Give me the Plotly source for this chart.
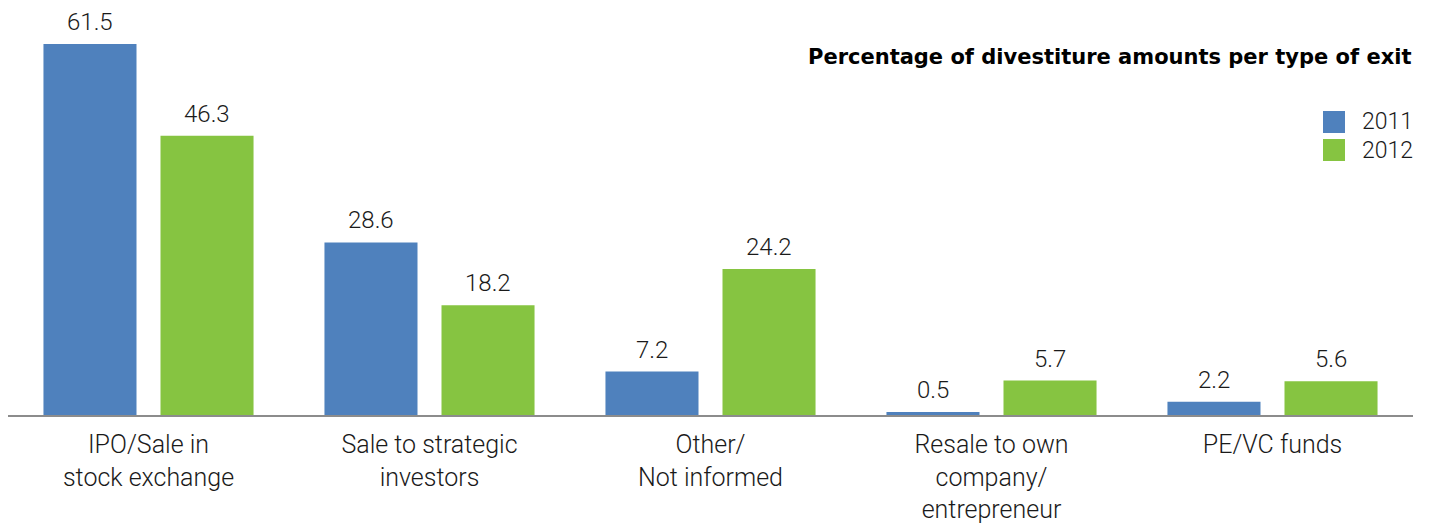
import plotly.graph_objects as go

categories = [
    "IPO/Sale in<br>stock exchange",
    "Sale to strategic<br>investors",
    "Other/<br>Not informed",
    "Resale to own<br>company/<br>entrepreneur",
    "PE/VC funds",
]
series_names = ["2011", "2012"]
values_2011 = [61.5, 28.6, 7.2, 0.5, 2.2]
values_2012 = [46.3, 18.2, 24.2, 5.7, 5.6]

BLUE = "#4f81bd"
GREEN = "#86c441"
TEXT = "#1a1a1a"
FONT = "Roboto, 'Liberation Sans', Arial, sans-serif"

# plot area geometry (px) used for the value-label offsets
PLOT_W = 1429 - 8 - 16
N_CAT = len(categories)
BARGAP = 0.167
SLOT_PX = PLOT_W / N_CAT * (1 - BARGAP) / 2

fig = go.Figure()
annotations = []
series = [(series_names[0], values_2011, BLUE, -1), (series_names[1], values_2012, GREEN, 1)]
for name, vals, color, side in series:
    fig.add_trace(go.Bar(
        name=name,
        x=categories,
        y=vals,
        marker=dict(color=color, line=dict(width=0)),
        showlegend=False,
        hoverinfo="x+y+name",
    ))
    for cat, v in zip(categories, vals):
        annotations.append(dict(
            x=cat, y=v, xref="x", yref="y",
            text=f"{v:.1f}", showarrow=False,
            xanchor="center", yanchor="bottom",
            xshift=side * SLOT_PX / 2, yshift=6,
            font=dict(size=24, color=TEXT, family=FONT),
        ))

# title
annotations.append(dict(
    text="<b>Percentage of divestiture amounts per type of exit</b>",
    xref="paper", yref="paper", x=1.0, y=(415 - 57) / 415,
    xanchor="right", yanchor="middle", showarrow=False,
    font=dict(size=21, color="#000000", family="'DejaVu Sans', sans-serif"),
))

# legend: colour swatches with year labels
shapes = []
legend_rows = [(series_names[0], BLUE, 111), (series_names[1], GREEN, 139)]
for name, color, top_px in legend_rows:
    shapes.append(dict(
        type="rect", xref="paper", yref="paper",
        x0=(1323 - 8) / PLOT_W, x1=(1345 - 8) / PLOT_W,
        y0=(415 - top_px - 22) / 415, y1=(415 - top_px) / 415,
        fillcolor=color, line=dict(width=0),
    ))
    annotations.append(dict(
        text=name, xref="paper", yref="paper",
        x=(1360 - 8) / PLOT_W, y=(415 - top_px - 11) / 415,
        xanchor="left", yanchor="middle", showarrow=False,
        font=dict(size=23, color=TEXT, family=FONT),
    ))

fig.update_layout(
    width=1429,
    height=524,
    margin=dict(l=8, r=16, t=0, b=109),
    paper_bgcolor="white",
    plot_bgcolor="white",
    barmode="group",
    bargap=BARGAP,
    bargroupgap=0.205,
    font=dict(family=FONT, size=22, color=TEXT, weight=300),
    showlegend=False,
    annotations=annotations,
    shapes=shapes,
    xaxis=dict(
        showline=True, linecolor="#8c8c8c", linewidth=2,
        ticks="", showgrid=False, zeroline=False,
        tickfont=dict(size=25, color=TEXT, family=FONT),
        ticklabelstandoff=6,
    ),
    yaxis=dict(
        range=[0, 68.8], visible=False, showgrid=False, zeroline=False,
    ),
)

fig.write_html("out.html")
